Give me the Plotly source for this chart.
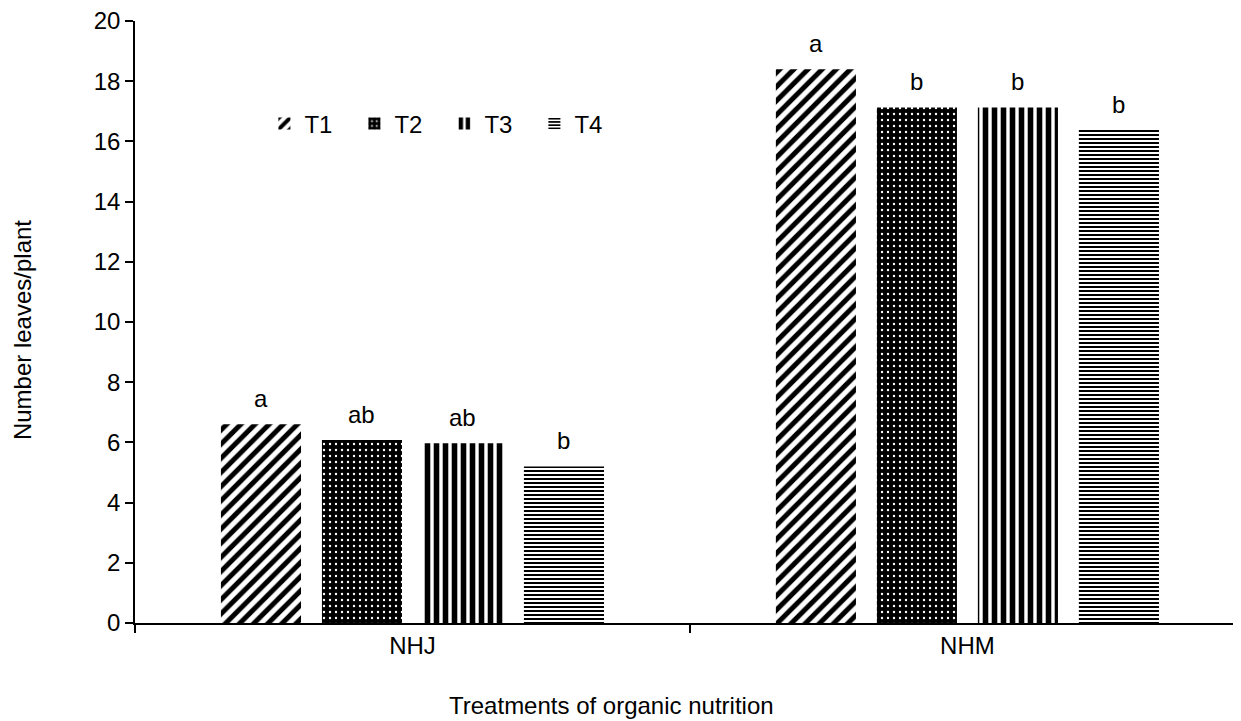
import plotly.graph_objects as go

categories = ["NHJ", "NHM"]
series_names = ["T1", "T2", "T3", "T4"]
values_T1 = [6.6, 18.4]
values_T2 = [6.08, 17.13]
values_T3 = [5.97, 17.13]
values_T4 = [5.2, 16.38]
letters_T1 = ["a", "a"]
letters_T2 = ["ab", "b"]
letters_T3 = ["ab", "b"]
letters_T4 = ["b", "b"]
y_ticks = [0, 2, 4, 6, 8, 10, 12, 14, 16, 18, 20]
x_title = "Treatments of organic nutrition"
y_title = "Number leaves/plant"

FONT = "Liberation Sans, Arial, sans-serif"
FS = 24
BARGAP = 0.272
GROUPGAP = 0.207

patterns = [
    dict(shape="/", size=10, solidity=0.5, fgcolor="black", bgcolor="white", fillmode="replace"),
    dict(shape=".", size=6, solidity=0.12, fgcolor="white", bgcolor="black", fillmode="replace"),
    dict(shape="|", size=9, solidity=0.62, fgcolor="black", bgcolor="white", fillmode="replace"),
    dict(shape="-", size=4, solidity=0.5, fgcolor="black", bgcolor="white", fillmode="replace"),
]

all_vals = [values_T1, values_T2, values_T3, values_T4]
all_letters = [letters_T1, letters_T2, letters_T3, letters_T4]
n_series = len(series_names)
slot = (1 - BARGAP) / n_series

fig = go.Figure()
annotations = []
for i, (name, vals, letters, pat) in enumerate(zip(series_names, all_vals, all_letters, patterns)):
    fig.add_trace(go.Bar(
        name=name, x=categories, y=vals,
        marker=dict(color=pat["fgcolor"], pattern=pat, line=dict(width=0)),
    ))
    for ci, (v, lt) in enumerate(zip(vals, letters)):
        annotations.append(dict(
            x=ci + (i - (n_series - 1) / 2) * slot, y=v, xref="x", yref="y",
            text=lt, showarrow=False, yanchor="bottom", xanchor="center", yshift=10,
            font=dict(size=FS, color="black", family=FONT),
        ))

annotations.append(dict(
    text=x_title, xref="paper", yref="paper", x=0.431, y=-0.137,
    xanchor="center", yanchor="middle", showarrow=False,
    font=dict(size=FS, color="black", family=FONT),
))
annotations.append(dict(
    text=y_title, xref="paper", yref="paper", x=-0.101, y=0.487, textangle=-90,
    xanchor="center", yanchor="middle", showarrow=False,
    font=dict(size=FS, color="black", family=FONT),
))

fig.update_layout(
    width=1233, height=713,
    margin=dict(l=127, r=0, t=13, b=98),
    paper_bgcolor="white", plot_bgcolor="white",
    font=dict(family=FONT, size=FS, color="black"),
    barmode="group", bargap=BARGAP, bargroupgap=GROUPGAP,
    showlegend=True,
    legend=dict(orientation="h", x=0.117, y=0.829, xanchor="left", yanchor="middle",
                bgcolor="rgba(0,0,0,0)", font=dict(size=FS),
                entrywidth=45, entrywidthmode="pixels", itemsizing="constant"),
    annotations=annotations,
)
fig.update_xaxes(
    type="category", range=[-0.5, 1.493],
    showline=True, linecolor="black", linewidth=1.5,
    ticks="outside", tickson="boundaries", ticklen=8, tickcolor="black", tickwidth=1.5,
    showgrid=False, zeroline=False,
    tickfont=dict(size=FS),
)
fig.update_yaxes(
    range=[0, 20], tickvals=y_ticks, ticklabeloverflow="allow",
    showline=True, linecolor="black", linewidth=1.5,
    ticks="outside", ticklen=8, tickcolor="black", tickwidth=1.5,
    showgrid=False, zeroline=False,
    tickfont=dict(size=FS),
)

fig.write_html("out.html")
